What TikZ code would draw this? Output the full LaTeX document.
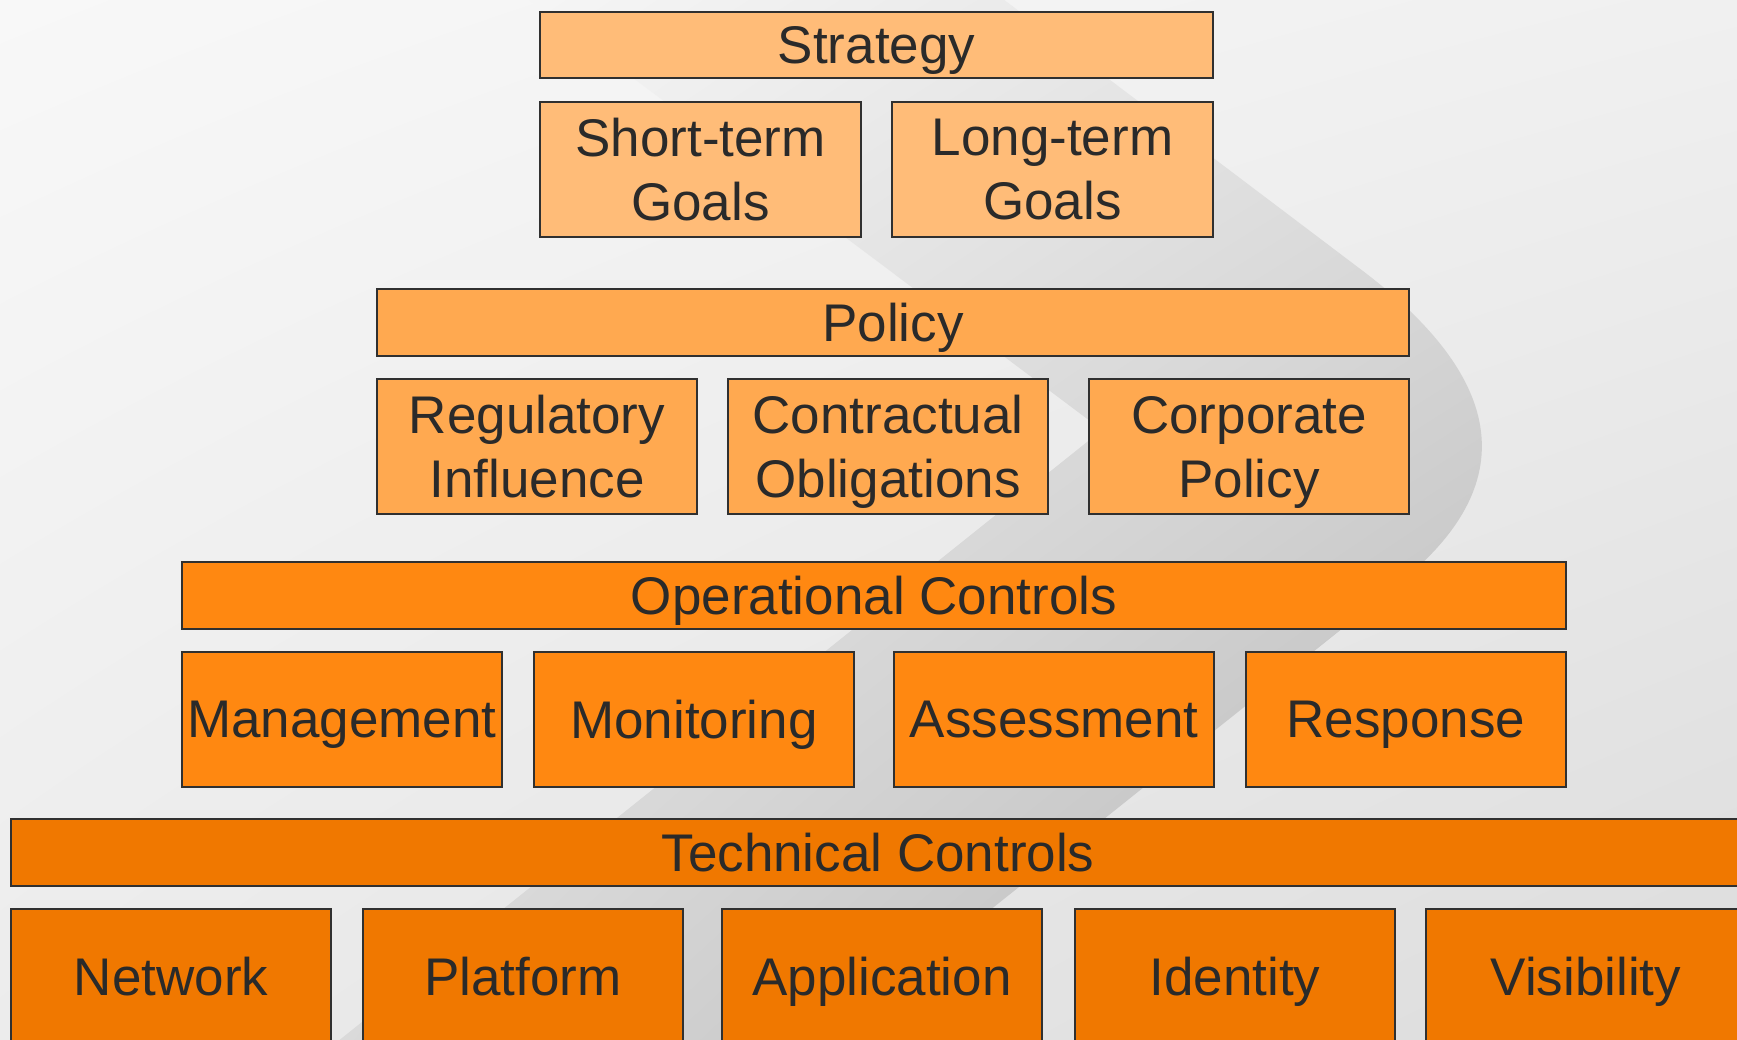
\documentclass[tikz,border=0pt]{standalone}
\usepackage{fontspec}
\usetikzlibrary{shadings}
\setmainfont{Liberation Sans}
\definecolor{bgTL}{HTML}{F8F8F8}
\definecolor{bgTR}{HTML}{F0F0F0}
\definecolor{bgBL}{HTML}{ECECEC}
\definecolor{bgBR}{HTML}{DCDCDC}
\definecolor{bdTL}{HTML}{FAFAFA}
\definecolor{bdTR}{HTML}{E0E0E0}
\definecolor{bdBL}{HTML}{DADADA}
\definecolor{bdBR}{HTML}{B4B4B4}
\definecolor{cStrat}{HTML}{FFBC78}
\definecolor{cPol}{HTML}{FFA950}
\definecolor{cOp}{HTML}{FF8811}
\definecolor{cTech}{HTML}{F07800}
\definecolor{edgegray}{HTML}{303030}
\definecolor{txt}{HTML}{2A2A2A}
\begin{document}
\begin{tikzpicture}[x=1pt,y=-1pt,
  box/.style={draw=edgegray, line width=2.2pt, rectangle, inner sep=0pt,
    align=center, text=txt, font=\fontsize{53}{64}\selectfont, text depth=0pt},
  bar/.style={box, minimum height=67pt},
  cell/.style={box, minimum width=320pt, minimum height=135pt},
]
\useasboundingbox (0,0) rectangle (1737,1040);
\clip (0,0) rectangle (1737,1040);
% background
\shade[upper left=bgTL, upper right=bgTR, lower left=bgBL, lower right=bgBR]
  (0,0) rectangle (1737,1040);
% chevron band
\shade[upper left=bdTL, upper right=bdTR, lower left=bdBL, lower right=bdBR]
  (516,-10) -- (991,-10) -- (1360,268.8)
  .. controls (1508,380) and (1521,485) .. (1400,582.4)
  -- (815,1050) -- (327,1050) -- (1102,430) -- cycle;

% Strategy level
\node[bar, fill=cStrat, minimum width=673pt, minimum height=66pt] (strategy) at (876.5,45) {Strategy};
\node[cell, fill=cStrat, minimum width=321pt] (short) at (700.5,169.5) {Short-term\\Goals};
\node[cell, fill=cStrat, minimum width=321pt] (long) at (1052.5,169.5) {Long-term\\Goals};

% Policy level
\node[bar, fill=cPol, minimum width=1032pt] (policy) at (893,322.5) {Policy};
\node[cell, fill=cPol] (reg) at (537,446.5) {Regulatory\\Influence};
\node[cell, fill=cPol] (contr) at (888,446.5) {Contractual\\Obligations};
\node[cell, fill=cPol] (corp) at (1249,446.5) {Corporate\\Policy};

% Operational level
\node[bar, fill=cOp, minimum width=1384pt] (oper) at (874,595.5) {Operational Controls};
\node[cell, fill=cOp] (mgmt) at (342,719.5) {Management};
\node[cell, fill=cOp] (mon) at (694,719.5) {Monitoring};
\node[cell, fill=cOp] (assess) at (1054,719.5) {Assessment};
\node[cell, fill=cOp] (resp) at (1406,719.5) {Response};

% Technical level
\node[bar, fill=cTech, minimum width=1734pt] (tech) at (878,852.5) {Technical Controls};
\node[cell, fill=cTech] (net) at (171,976.5) {Network};
\node[cell, fill=cTech] (plat) at (523,976.5) {Platform};
\node[cell, fill=cTech] (app) at (882,976.5) {Application};
\node[cell, fill=cTech] (ident) at (1235,976.5) {Identity};
\node[cell, fill=cTech] (vis) at (1586,976.5) {Visibility};
\end{tikzpicture}
\end{document}
